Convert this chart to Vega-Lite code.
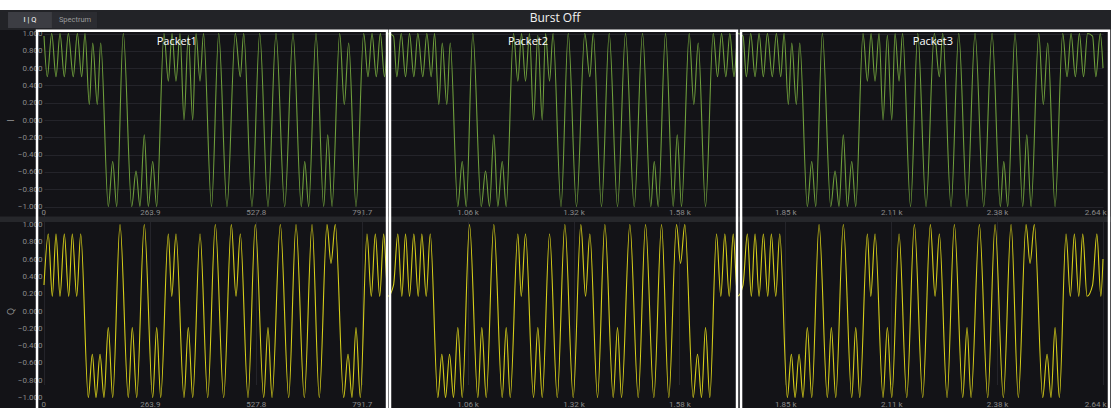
{
"$schema": "https://vega.github.io/schema/vega-lite/v6.json",
"width": 1111, "height": 398,
"autosize": {"type": "none"},
"padding": {"top": 10, "left": 0, "right": 0, "bottom": 0},
"background": "#ffffff",
"config": {"view": {"stroke": null, "fill": "#131317"}, "font": "Open Sans", "axis": {"labelOverlap": false}},
"datasets": {
"I": [
{"x":0,"v":0.97},{"x":8.2,"v":0.5},{"x":19.2,"v":1.0},{"x":29.9,"v":0.5},{"x":39.9,"v":1.0},{"x":50.6,"v":0.5},{"x":60.6,"v":1.0},{"x":73.0,"v":0.5},{"x":83.0,"v":1.0},{"x":93.9,"v":0.5},{"x":102.2,"v":1.0},{"x":112.9,"v":0.18},{"x":121.4,"v":0.89},{"x":132.8,"v":0.18},{"x":141.3,"v":0.89},{"x":160.2,"v":-1.0},{"x":171.2,"v":-0.48},{"x":181.2,"v":-1.0},{"x":197.6,"v":1.0},{"x":218.6,"v":-1.0},{"x":229.3,"v":-0.59},{"x":239.2,"v":-1.0},{"x":249.9,"v":-0.17},{"x":259.9,"v":-1.0},{"x":270.9,"v":-0.48},{"x":280.8,"v":-1.0},{"x":299.0,"v":1.0},{"x":309.8,"v":0.45},{"x":319.0,"v":1.0},{"x":328.9,"v":0.45},{"x":338.9,"v":1.0},{"x":348.9,"v":0.0},{"x":359.6,"v":0.98},{"x":370.6,"v":0.0},{"x":378.8,"v":1.0},{"x":388.8,"v":0.45},{"x":397.5,"v":1.0},{"x":417.4,"v":-1.0},{"x":435.4,"v":1.0},{"x":456.0,"v":-1.0},{"x":476.7,"v":1.0},{"x":489.2,"v":0.5},{"x":497.6,"v":1.0},{"x":518.3,"v":-1.0},{"x":537.5,"v":1.0},{"x":558.2,"v":-1.0},{"x":578.1,"v":1.0},{"x":599.8,"v":-1.0},{"x":620.5,"v":1.0},{"x":641.2,"v":-1.0},{"x":649.7,"v":-0.48},{"x":659.6,"v":-1.0},{"x":677.8,"v":1.0},{"x":697.0,"v":-1.0},{"x":707.0,"v":-0.17},{"x":717.7,"v":-1.0},{"x":736.9,"v":1.0},{"x":748.3,"v":0.18},{"x":759.3,"v":0.89},{"x":777.5,"v":-1.0},{"x":796.7,"v":1.0},{"x":807.4,"v":0.5},{"x":817.4,"v":1.0},{"x":828.1,"v":0.5},{"x":838.1,"v":1.0},{"x":848.5,"v":0.5},{"x":858.5,"v":1.0},
{"x":871,"v":0.97},{"x":879.2,"v":0.5},{"x":890.2,"v":1.0},{"x":900.9,"v":0.5},{"x":910.9,"v":1.0},{"x":921.6,"v":0.5},{"x":931.6,"v":1.0},{"x":944.0,"v":0.5},{"x":954.0,"v":1.0},{"x":964.9,"v":0.5},{"x":973.2,"v":1.0},{"x":983.9,"v":0.18},{"x":992.4,"v":0.89},{"x":1003.8,"v":0.18},{"x":1012.3,"v":0.89},{"x":1031.2,"v":-1.0},{"x":1042.2,"v":-0.48},{"x":1052.2,"v":-1.0},{"x":1068.6,"v":1.0},{"x":1089.6,"v":-1.0},{"x":1100.3,"v":-0.59},{"x":1110.2,"v":-1.0},{"x":1120.9,"v":-0.17},{"x":1130.9,"v":-1.0},{"x":1141.9,"v":-0.48},{"x":1151.8,"v":-1.0},{"x":1170.0,"v":1.0},{"x":1180.8,"v":0.45},{"x":1190.0,"v":1.0},{"x":1199.9,"v":0.45},{"x":1209.9,"v":1.0},{"x":1219.9,"v":0.0},{"x":1230.6,"v":0.98},{"x":1241.6,"v":0.0},{"x":1249.8,"v":1.0},{"x":1259.8,"v":0.45},{"x":1268.5,"v":1.0},{"x":1288.4,"v":-1.0},{"x":1306.4,"v":1.0},{"x":1327.0,"v":-1.0},{"x":1347.7,"v":1.0},{"x":1360.2,"v":0.5},{"x":1368.6,"v":1.0},{"x":1389.3,"v":-1.0},{"x":1408.5,"v":1.0},{"x":1429.2,"v":-1.0},{"x":1449.1,"v":1.0},{"x":1470.8,"v":-1.0},{"x":1491.5,"v":1.0},{"x":1512.2,"v":-1.0},{"x":1520.7,"v":-0.48},{"x":1530.6,"v":-1.0},{"x":1548.8,"v":1.0},{"x":1568.0,"v":-1.0},{"x":1578.0,"v":-0.17},{"x":1588.7,"v":-1.0},{"x":1607.9,"v":1.0},{"x":1619.3,"v":0.18},{"x":1630.3,"v":0.89},{"x":1648.5,"v":-1.0},{"x":1667.7,"v":1.0},{"x":1678.4,"v":0.5},{"x":1688.4,"v":1.0},{"x":1699.1,"v":0.5},{"x":1709.1,"v":1.0},{"x":1719.5,"v":0.5},{"x":1729.5,"v":1.0},
{"x":1742,"v":0.97},{"x":1750.2,"v":0.5},{"x":1761.2,"v":1.0},{"x":1771.9,"v":0.5},{"x":1781.9,"v":1.0},{"x":1792.6,"v":0.5},{"x":1802.6,"v":1.0},{"x":1815.0,"v":0.5},{"x":1825.0,"v":1.0},{"x":1835.9,"v":0.5},{"x":1844.2,"v":1.0},{"x":1854.9,"v":0.18},{"x":1863.4,"v":0.89},{"x":1874.8,"v":0.18},{"x":1883.3,"v":0.89},{"x":1902.2,"v":-1.0},{"x":1913.2,"v":-0.48},{"x":1923.2,"v":-1.0},{"x":1939.6,"v":1.0},{"x":1960.6,"v":-1.0},{"x":1971.3,"v":-0.59},{"x":1981.2,"v":-1.0},{"x":1991.9,"v":-0.17},{"x":2001.9,"v":-1.0},{"x":2012.9,"v":-0.48},{"x":2022.8,"v":-1.0},{"x":2041.0,"v":1.0},{"x":2051.8,"v":0.45},{"x":2061.0,"v":1.0},{"x":2070.9,"v":0.45},{"x":2080.9,"v":1.0},{"x":2090.9,"v":0.0},{"x":2101.6,"v":0.98},{"x":2112.6,"v":0.0},{"x":2120.8,"v":1.0},{"x":2130.8,"v":0.45},{"x":2139.5,"v":1.0},{"x":2159.4,"v":-1.0},{"x":2177.4,"v":1.0},{"x":2198.0,"v":-1.0},{"x":2218.7,"v":1.0},{"x":2231.2,"v":0.5},{"x":2239.6,"v":1.0},{"x":2260.3,"v":-1.0},{"x":2279.5,"v":1.0},{"x":2300.2,"v":-1.0},{"x":2320.1,"v":1.0},{"x":2341.8,"v":-1.0},{"x":2362.5,"v":1.0},{"x":2383.2,"v":-1.0},{"x":2391.7,"v":-0.48},{"x":2401.6,"v":-1.0},{"x":2419.8,"v":1.0},{"x":2439.0,"v":-1.0},{"x":2449.0,"v":-0.17},{"x":2459.7,"v":-1.0},{"x":2478.9,"v":1.0},{"x":2490.3,"v":0.18},{"x":2501.3,"v":0.89},{"x":2519.5,"v":-1.0},{"x":2538.7,"v":1.0},{"x":2549.4,"v":0.5},{"x":2559.4,"v":1.0},{"x":2570.1,"v":0.5},{"x":2580.1,"v":1.0},{"x":2590.5,"v":0.5},{"x":2600.5,"v":1.0},
{"x":2613,"v":0.97},{"x":2621.2,"v":0.5},{"x":2632.2,"v":1.0},{"x":2639,"v":0.6}
],
"Q": [
{"x":0,"v":0.3},{"x":10.7,"v":0.89},{"x":20.7,"v":0.17},{"x":29.9,"v":0.89},{"x":39.9,"v":0.17},{"x":50.6,"v":0.89},{"x":61.6,"v":0.17},{"x":70.5,"v":0.89},{"x":81.5,"v":0.17},{"x":91.5,"v":0.89},{"x":110.4,"v":-1.0},{"x":120.4,"v":-0.5},{"x":129.6,"v":-1.0},{"x":139.6,"v":-0.5},{"x":149.5,"v":-1.0},{"x":160.2,"v":-0.19},{"x":171.2,"v":-1.0},{"x":189.4,"v":1.0},{"x":210.1,"v":-1.0},{"x":220.0,"v":-0.19},{"x":231.0,"v":-1.0},{"x":249.9,"v":1.0},{"x":270.9,"v":-1.0},{"x":280.8,"v":-0.19},{"x":290.8,"v":-1.0},{"x":309.8,"v":0.89},{"x":318.3,"v":0.17},{"x":328.9,"v":0.89},{"x":348.9,"v":-1.0},{"x":359.6,"v":-0.19},{"x":370.6,"v":-1.0},{"x":388.8,"v":0.89},{"x":408.0,"v":-1.0},{"x":426.9,"v":1.0},{"x":447.8,"v":-1.0},{"x":466.8,"v":1.0},{"x":478.5,"v":0.17},{"x":489.2,"v":0.89},{"x":508.4,"v":-1.0},{"x":526.6,"v":1.0},{"x":547.5,"v":-1.0},{"x":558.2,"v":-0.19},{"x":568.2,"v":-1.0},{"x":588.9,"v":1.0},{"x":609.8,"v":-1.0},{"x":628.0,"v":1.0},{"x":648.7,"v":-1.0},{"x":667.9,"v":1.0},{"x":686.0,"v":-1.0},{"x":705.2,"v":1.0},{"x":715.2,"v":0.55},{"x":725.9,"v":1.0},{"x":746.8,"v":-1.0},{"x":757.6,"v":-0.5},{"x":767.5,"v":-1.0},{"x":777.5,"v":-0.19},{"x":788.2,"v":-1.0},{"x":804.9,"v":0.89},{"x":815.6,"v":0.17},{"x":825.6,"v":0.89},{"x":836.6,"v":0.17},{"x":846.5,"v":0.89},{"x":857.2,"v":0.17},
{"x":871,"v":0.3},{"x":881.7,"v":0.89},{"x":891.7,"v":0.17},{"x":900.9,"v":0.89},{"x":910.9,"v":0.17},{"x":921.6,"v":0.89},{"x":932.6,"v":0.17},{"x":941.5,"v":0.89},{"x":952.5,"v":0.17},{"x":962.5,"v":0.89},{"x":981.4,"v":-1.0},{"x":991.4,"v":-0.5},{"x":1000.6,"v":-1.0},{"x":1010.6,"v":-0.5},{"x":1020.5,"v":-1.0},{"x":1031.2,"v":-0.19},{"x":1042.2,"v":-1.0},{"x":1060.4,"v":1.0},{"x":1081.1,"v":-1.0},{"x":1091.0,"v":-0.19},{"x":1102.0,"v":-1.0},{"x":1120.9,"v":1.0},{"x":1141.9,"v":-1.0},{"x":1151.8,"v":-0.19},{"x":1161.8,"v":-1.0},{"x":1180.8,"v":0.89},{"x":1189.3,"v":0.17},{"x":1199.9,"v":0.89},{"x":1219.9,"v":-1.0},{"x":1230.6,"v":-0.19},{"x":1241.6,"v":-1.0},{"x":1259.8,"v":0.89},{"x":1279.0,"v":-1.0},{"x":1297.9,"v":1.0},{"x":1318.8,"v":-1.0},{"x":1337.8,"v":1.0},{"x":1349.5,"v":0.17},{"x":1360.2,"v":0.89},{"x":1379.4,"v":-1.0},{"x":1397.6,"v":1.0},{"x":1418.5,"v":-1.0},{"x":1429.2,"v":-0.19},{"x":1439.2,"v":-1.0},{"x":1459.9,"v":1.0},{"x":1480.8,"v":-1.0},{"x":1499.0,"v":1.0},{"x":1519.7,"v":-1.0},{"x":1538.9,"v":1.0},{"x":1557.0,"v":-1.0},{"x":1576.2,"v":1.0},{"x":1586.2,"v":0.55},{"x":1596.9,"v":1.0},{"x":1617.8,"v":-1.0},{"x":1628.6,"v":-0.5},{"x":1638.5,"v":-1.0},{"x":1648.5,"v":-0.19},{"x":1659.2,"v":-1.0},{"x":1675.9,"v":0.89},{"x":1686.6,"v":0.17},{"x":1696.6,"v":0.89},{"x":1707.6,"v":0.17},{"x":1717.5,"v":0.89},{"x":1728.2,"v":0.17},
{"x":1742,"v":0.3},{"x":1752.7,"v":0.89},{"x":1762.7,"v":0.17},{"x":1771.9,"v":0.89},{"x":1781.9,"v":0.17},{"x":1792.6,"v":0.89},{"x":1803.6,"v":0.17},{"x":1812.5,"v":0.89},{"x":1823.5,"v":0.17},{"x":1833.5,"v":0.89},{"x":1852.4,"v":-1.0},{"x":1862.4,"v":-0.5},{"x":1871.6,"v":-1.0},{"x":1881.6,"v":-0.5},{"x":1891.5,"v":-1.0},{"x":1902.2,"v":-0.19},{"x":1913.2,"v":-1.0},{"x":1931.4,"v":1.0},{"x":1952.1,"v":-1.0},{"x":1962.0,"v":-0.19},{"x":1973.0,"v":-1.0},{"x":1991.9,"v":1.0},{"x":2012.9,"v":-1.0},{"x":2022.8,"v":-0.19},{"x":2032.8,"v":-1.0},{"x":2051.8,"v":0.89},{"x":2060.3,"v":0.17},{"x":2070.9,"v":0.89},{"x":2090.9,"v":-1.0},{"x":2101.6,"v":-0.19},{"x":2112.6,"v":-1.0},{"x":2130.8,"v":0.89},{"x":2150.0,"v":-1.0},{"x":2168.9,"v":1.0},{"x":2189.8,"v":-1.0},{"x":2208.8,"v":1.0},{"x":2220.5,"v":0.17},{"x":2231.2,"v":0.89},{"x":2250.4,"v":-1.0},{"x":2268.6,"v":1.0},{"x":2289.5,"v":-1.0},{"x":2300.2,"v":-0.19},{"x":2310.2,"v":-1.0},{"x":2330.9,"v":1.0},{"x":2351.8,"v":-1.0},{"x":2370.0,"v":1.0},{"x":2390.7,"v":-1.0},{"x":2409.9,"v":1.0},{"x":2428.0,"v":-1.0},{"x":2447.2,"v":1.0},{"x":2457.2,"v":0.55},{"x":2467.9,"v":1.0},{"x":2488.8,"v":-1.0},{"x":2499.6,"v":-0.5},{"x":2509.5,"v":-1.0},{"x":2519.5,"v":-0.19},{"x":2530.2,"v":-1.0},{"x":2546.9,"v":0.89},{"x":2557.6,"v":0.17},{"x":2567.6,"v":0.89},{"x":2578.6,"v":0.17},{"x":2588.5,"v":0.89},{"x":2599.2,"v":0.17},
{"x":2613,"v":0.3},{"x":2623.7,"v":0.89},{"x":2633.7,"v":0.17},{"x":2639,"v":0.6}
],
"packets": [
{"packet":"Packet1","start":-17.4,"end":854.8,"mid":331},
{"packet":"Packet2","start":862.2,"end":1727,"mid":1206},
{"packet":"Packet3","start":1737,"end":2654,"mid":2215}
]
},
"resolve": {"scale": {"x": "independent", "y": "independent"}},
"layer": [
{
"data": {"name": "I"},
"mark": {"type": "line", "interpolate": "monotone", "color": "#6f9f3c", "strokeWidth": 1.1},
"encoding": {
"x": {"field": "x", "type": "quantitative",
"scale": {"domain": [0, 2639], "range": [44, 1103], "nice": false, "zero": false},
"axis": {"orient": "bottom", "offset": -201.5, "title": null, "values": [0, 263.9, 527.8, 791.7, 1055.6, 1319.5, 1583.4, 1847.3, 2111.2, 2375.1, 2639],
"labelExpr": "datum.value == 0 ? '0' : datum.value < 1000 ? format(datum.value, '.1f') : format(datum.value / 1000, '.2f') + ' k'",
"labelFlush": true, "labelFlushOffset": 3, "labelOverlap": false, "domain": false, "ticks": false, "labelPadding": 2, "labelFontSize": 8, "labelFont": "Roboto", "labelColor": "#8a8a8a", "gridColor": "#24242a", "gridWidth": 1}},
"y": {"field": "v", "type": "quantitative",
"scale": {"domain": [-1, 1], "range": [196.5, 23.5], "nice": false, "zero": false},
"axis": {"orient": "left", "offset": -44, "title": "I", "titleColor": "#9a9a9a", "titleFontSize": 9, "titleFontWeight": "normal", "titlePadding": 2, "values": [-1, -0.8, -0.6, -0.4, -0.2, 0, 0.2, 0.4, 0.6, 0.8, 1], "format": ".3f", "labelOverlap": false, "labelFlush": false, "domain": false, "ticks": false, "labelPadding": 2, "labelFontSize": 8, "labelFont": "Roboto", "labelColor": "#8a8a8a", "gridColor": "#24242a", "gridWidth": 1}}
}
},
{
"data": {"name": "Q"},
"mark": {"type": "line", "interpolate": "monotone", "color": "#d6cf1a", "strokeWidth": 1.1},
"encoding": {
"x": {"field": "x", "type": "quantitative",
"scale": {"domain": [0, 2639], "range": [44, 1103], "nice": false, "zero": false},
"axis": {"orient": "bottom", "offset": -10, "title": null, "values": [0, 263.9, 527.8, 791.7, 1055.6, 1319.5, 1583.4, 1847.3, 2111.2, 2375.1, 2639],
"labelExpr": "datum.value == 0 ? '0' : datum.value < 1000 ? format(datum.value, '.1f') : format(datum.value / 1000, '.2f') + ' k'",
"labelFlush": true, "labelFlushOffset": 3, "labelOverlap": false, "domain": false, "ticks": false, "labelPadding": 2, "labelFontSize": 8, "labelFont": "Roboto", "labelColor": "#8a8a8a", "gridColor": "#24242a", "gridWidth": 1}},
"y": {"field": "v", "type": "quantitative",
"scale": {"domain": [-1, 1], "range": [387.5, 214.5], "nice": false, "zero": false},
"axis": {"orient": "left", "offset": -44, "title": "Q", "titleColor": "#9a9a9a", "titleFontSize": 9, "titleFontWeight": "normal", "titlePadding": 2, "values": [-1, -0.8, -0.6, -0.4, -0.2, 0, 0.2, 0.4, 0.6, 0.8, 1], "format": ".3f", "labelOverlap": false, "labelFlush": false, "domain": false, "ticks": false, "labelPadding": 2, "labelFontSize": 8, "labelFont": "Roboto", "labelColor": "#8a8a8a", "gridColor": "#24242a", "gridWidth": 1}}
}
},
{
"layer": [
{
"data": {"values": [{}]},
"mark": {"type": "rect", "color": "#26272b"},
"encoding": {"x": {"datum": -200, "scale": {"domain": [0, 2639], "range": [44, 1103], "nice": false, "zero": false}, "axis": null}, "x2": {"datum": 2800}, "y": {"datum": 1.092, "scale": {"domain": [-1, 1], "range": [387.5, 214.5], "nice": false, "zero": false}, "axis": null}, "y2": {"datum": 1.029}}
},
{
"data": {"values": [{}]},
"mark": {"type": "rect", "color": "#222327"},
"encoding": {"x": {"datum": -200, "axis": null}, "x2": {"datum": 2800}, "y": {"datum": 3.48, "axis": null}, "y2": {"datum": 3.249}}
},
{
"data": {"values": [{"tab": "I | Q", "a": -89.7, "b": 19.9, "col": "#3c3d43"}, {"tab": "Spectrum", "a": 19.9, "b": 132.1, "col": "#2b2c31"}]},
"mark": {"type": "rect"},
"encoding": {"x": {"field": "a", "type": "quantitative", "axis": null}, "x2": {"field": "b"}, "y": {"datum": 3.457, "axis": null}, "y2": {"datum": 3.272}, "color": {"field": "col", "type": "nominal", "scale": null}}
},
{
"data": {"values": [{"tab": "I | Q", "c": -34.9, "tcol": "#ffffff"}, {"tab": "Spectrum", "c": 77.3, "tcol": "#9a9a9a"}]},
"mark": {"type": "text", "fontSize": 7.5, "font": "Roboto", "baseline": "middle", "align": "center"},
"encoding": {"x": {"field": "c", "type": "quantitative", "axis": null}, "y": {"datum": 3.364, "axis": null}, "text": {"field": "tab"}, "color": {"field": "tcol", "type": "nominal", "scale": null}}
},
{
"data": {"values": [{"t": "Burst Off"}]},
"mark": {"type": "text", "fontSize": 12, "color": "#f2f2f2", "baseline": "middle", "align": "center"},
"encoding": {"x": {"datum": 1273.4, "axis": null}, "y": {"datum": 3.387, "axis": null}, "text": {"field": "t"}}
},
{
"data": {"name": "packets"},
"mark": {"type": "rect", "filled": false, "stroke": "#ffffff", "strokeWidth": 2.5},
"encoding": {"x": {"field": "start", "type": "quantitative", "axis": null}, "x2": {"field": "end"}, "y": {"datum": 3.239, "axis": null}, "y2": {"datum": -1.3}}
},
{
"data": {"name": "packets"},
"mark": {"type": "text", "fontSize": 11, "color": "#ffffff", "baseline": "middle", "align": "center"},
"encoding": {"x": {"field": "mid", "type": "quantitative", "axis": null}, "y": {"datum": 3.11, "axis": null}, "text": {"field": "packet"}}
}
]
}
]
}
